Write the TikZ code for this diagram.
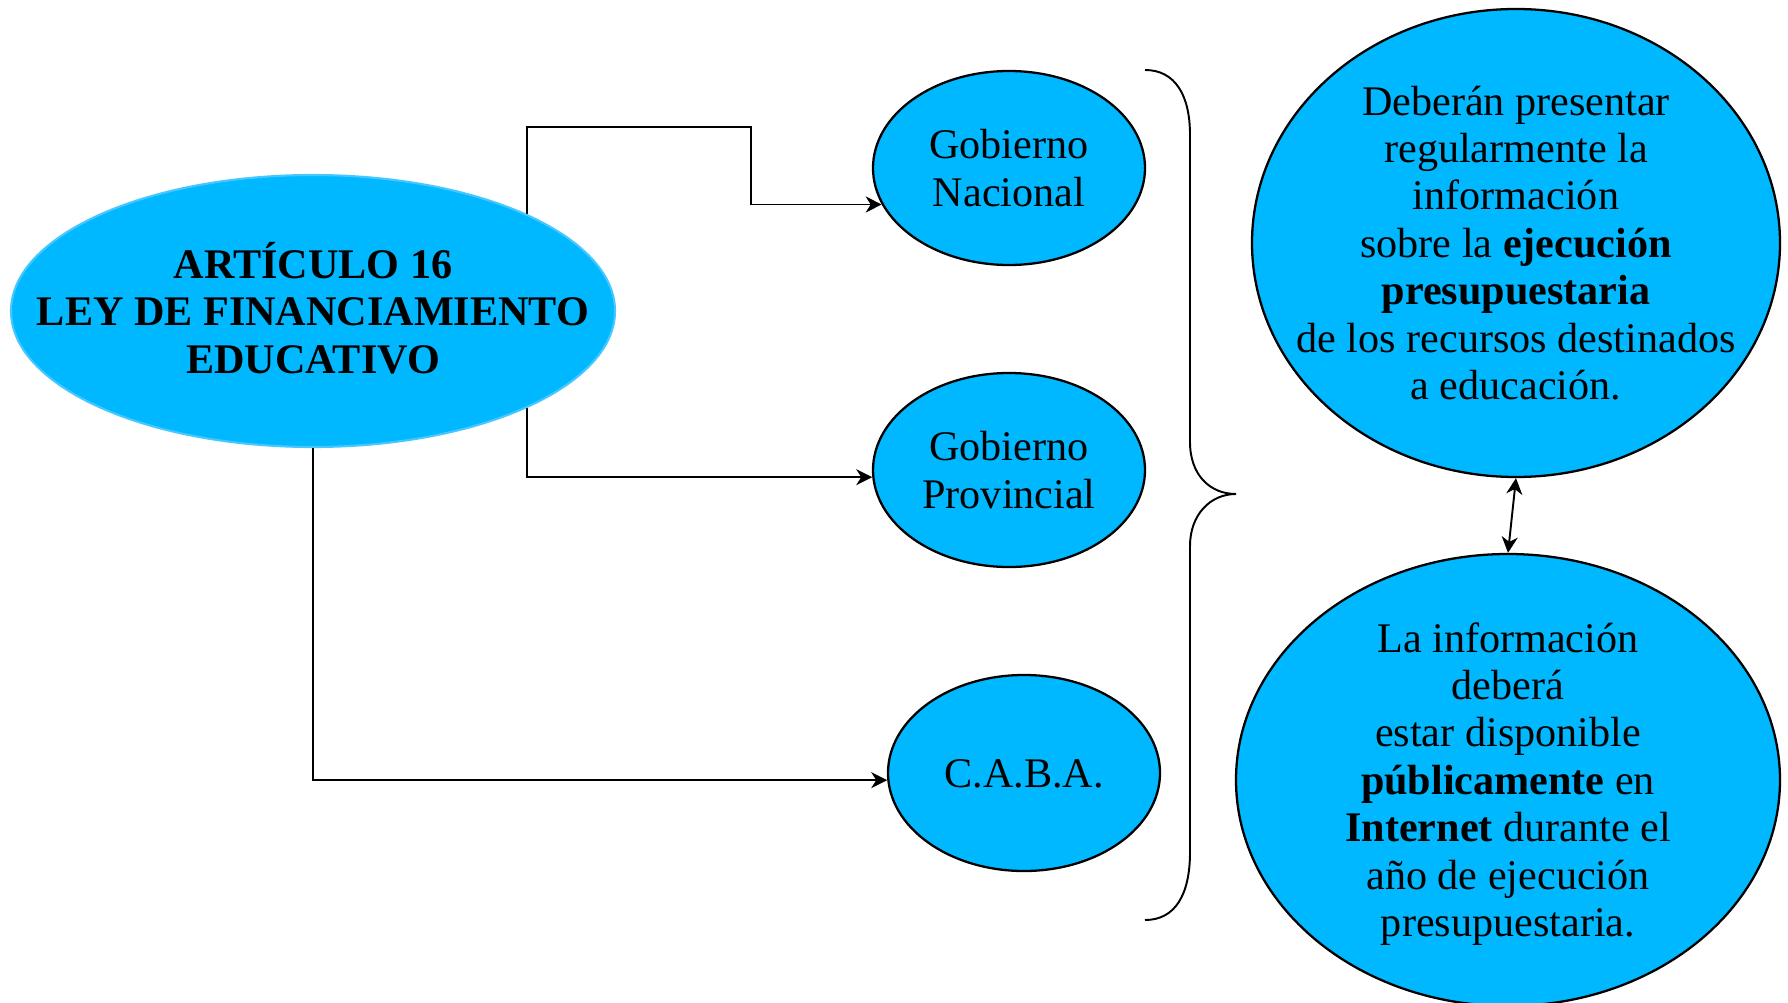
\documentclass[tikz,border=0pt]{standalone}
\usepackage{fontspec}
\setmainfont{Liberation Serif}
\usetikzlibrary{shapes.geometric,positioning,arrows.meta,backgrounds}
\definecolor{celeste}{RGB}{0,184,255}
\definecolor{celesteborde}{RGB}{70,200,255}
\newcommand{\elltext}[1]{\makebox[0pt]{\begin{tabular}{@{}c@{}}#1\end{tabular}}}
\begin{document}
\begin{tikzpicture}[node distance=6cm,auto,>={Stealth[length=3.2mm,width=3.2mm,inset=1mm]}]
	\tikzstyle{ell1} = [ellipse,fill=celeste,draw=celesteborde,line width=1.2pt,inner sep=0pt,
	text height=17pt,text depth=0pt,font=\fontsize{24}{27}\selectfont\bfseries]
	\tikzstyle{ell2} = [ellipse,fill=celeste,draw=black,line width=1.3pt,inner sep=0pt,
	text height=18pt,text depth=0pt,font=\fontsize{24}{27}\selectfont]
	\tikzstyle{linea} = [draw=black,line width=1.1pt]
	\useasboundingbox (0,0) rectangle (35.76,-20.06);
	\node (node1) [ell1,minimum width=12.08cm,minimum height=5.44cm] at (6.26,-6.22) {\elltext{ARTÍCULO 16\\LEY DE FINANCIAMIENTO\\EDUCATIVO}};
    \node (node2) [ell2,minimum width=5.44cm,minimum height=3.88cm] at (20.18,-3.36) {\elltext{Gobierno\\Nacional}};
    \node (node3) [ell2,minimum width=5.44cm,minimum height=3.88cm,below of=node2,node distance=6.04cm] {\elltext{Gobierno\\Provincial}};
    \node (node4) [ell2,minimum width=5.44cm,minimum height=3.92cm,below of=node3,node distance=6.06cm,xshift=0.3cm] {\elltext{C.A.B.A.}};
	\node (node5) [ell2,minimum width=10.56cm,minimum height=9.36cm] at (30.32,-4.86) {\elltext{Deberán presentar\\regularmente la\\información\\sobre la \textbf{ejecución}\\\textbf{presupuestaria}\\de los recursos destinados\\a educación.}};
	\node (node6) [ell2,minimum width=10.88cm,minimum height=9.04cm,below of=node5,node distance=10.74cm,xshift=-0.16cm] {\elltext{La información\\deberá\\estar disponible\\\textbf{públicamente} en\\\textbf{Internet} durante el\\año de ejecución\\presupuestaria.}};
	\coordinate (c1) at (10.54,-2.54);
	\coordinate (c2) at (15.02,-2.54);
	\begin{scope}[on background layer]
	\draw[linea,->] (node1.center -| c1) -- (c1) -- (c2) |- (node2.196);
	\draw[linea,->] (node1.center -| c1) |- (node3.183);
	\end{scope}
	\draw[linea,->] (node1.south) |- (node4.183);
	\draw[linea,<->] (node5.south) -- (node6.north);
	% llave
	\draw[linea] (22.9,-1.40) .. controls (23.5,-1.40) and (23.8,-1.9) .. (23.8,-2.7) -- (23.8,-8.84)
	  .. controls (23.8,-9.5) and (24.2,-9.88) .. (24.72,-9.88)
	  .. controls (24.2,-9.88) and (23.8,-10.3) .. (23.8,-10.92) -- (23.8,-17.04)
	  .. controls (23.8,-17.9) and (23.5,-18.4) .. (22.9,-18.4);
\end{tikzpicture}
\end{document}
